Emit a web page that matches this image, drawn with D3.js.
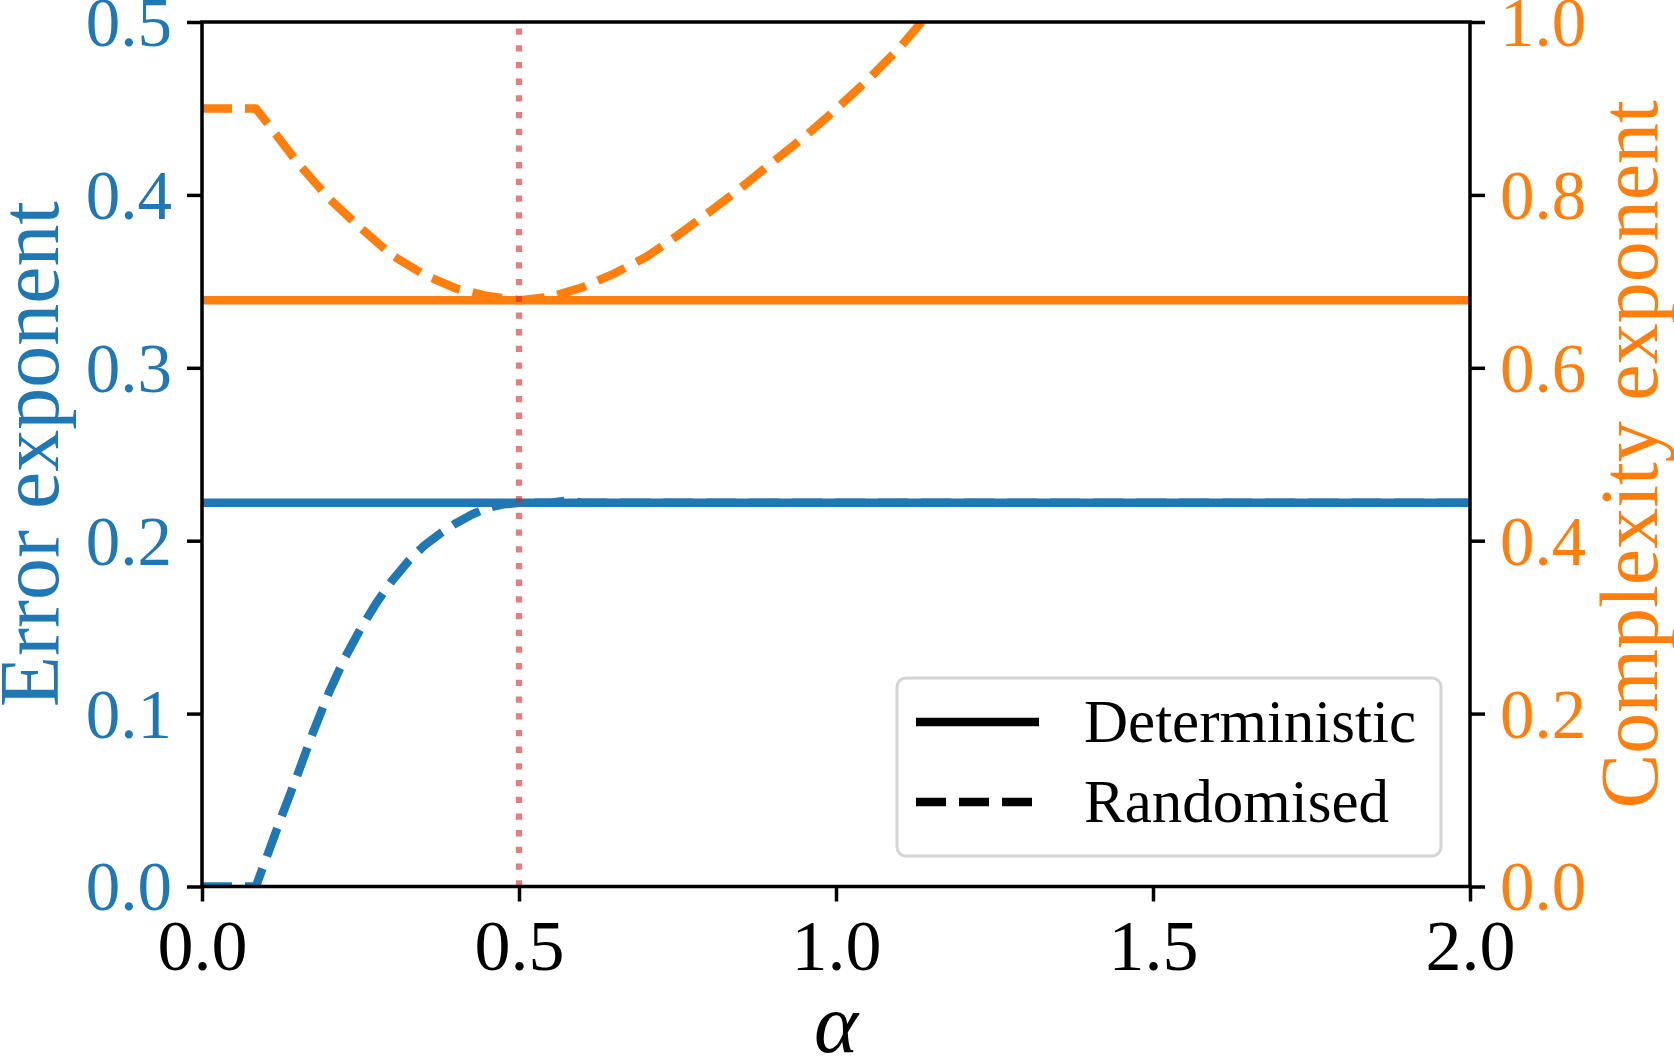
<html>
<head>
<script src="https://cdn.jsdelivr.net/npm/d3@7"></script>
<style>
  body { margin: 0; background: white; }
  text { font-family: "Liberation Serif", "DejaVu Serif", serif; }
</style>
</head>
<body>
<svg id="chart" width="1674" height="1058"></svg>
<script>
// deterministic exponents are flat in alpha
var detAlpha = [0, 2];
var detErr = [0.222, 0.222];
var detCx = [0.678, 0.678];

// randomised error exponent (left axis)
var randErrAlpha = [0, 0.085, 0.1, 0.125, 0.15, 0.175, 0.2, 0.225, 0.25, 0.275, 0.3, 0.325, 0.35, 0.375, 0.4, 0.425, 0.45, 0.475, 0.5, 0.55, 0.575, 0.6, 2.0];
var randErr = [0, 0, 0.015, 0.040, 0.064, 0.089, 0.112, 0.132, 0.149, 0.164, 0.177, 0.188, 0.197, 0.204, 0.210, 0.215, 0.219, 0.221, 0.222, 0.222, 0.2232, 0.222, 0.222];

// randomised complexity exponent (right axis)
var randCxAlpha = [0, 0.085, 0.1, 0.15, 0.2, 0.25, 0.3, 0.35, 0.4, 0.45, 0.5, 0.55, 0.6, 0.65, 0.7, 0.75, 0.8, 0.85, 0.9, 0.95, 1.0, 1.05, 1.1, 1.135, 1.2];
var randCx = [0.9, 0.9, 0.886, 0.838, 0.796, 0.762, 0.730, 0.708, 0.692, 0.683, 0.678, 0.682, 0.693, 0.709, 0.728, 0.753, 0.780, 0.808, 0.838, 0.867, 0.899, 0.933, 0.970, 1.0, 1.055];

var xTicks = [0, 0.5, 1.0, 1.5, 2.0];
var leftTicks = [0, 0.1, 0.2, 0.3, 0.4, 0.5];
var rightTicks = [0, 0.2, 0.4, 0.6, 0.8, 1.0];
var alphaStar = 0.5;

var blue = "#1f77b4", orange = "#ff7f0e";
var dashed = "30,13";
// plot box (window.top is reserved, so prefixed names)
var pL = 202, pR = 1470, pT = 22, pB = 886.5;

var svg = d3.select("#chart");
var x = d3.scaleLinear().domain([0, 2]).range([pL, pR]);
var yL = d3.scaleLinear().domain([0, 0.5]).range([pB, pT]);
var yR = d3.scaleLinear().domain([0, 1]).range([pB, pT]);
var fmt = d3.format(".1f");

svg.append("clipPath").attr("id", "plotclip")
  .append("rect").attr("x", pL).attr("y", pT)
  .attr("width", pR - pL).attr("height", pB - pT);

var plot = svg.append("g").attr("clip-path", "url(#plotclip)");

function addLine(xs, ys, scaleY, color, dash) {
  var line = d3.line().x(function(d) { return x(d[0]); }).y(function(d) { return scaleY(d[1]); });
  plot.append("path")
    .datum(xs.map(function(a, i) { return [a, ys[i]]; }))
    .attr("d", line)
    .attr("fill", "none")
    .attr("stroke", color)
    .attr("stroke-width", 8.5)
    .attr("stroke-linejoin", "round")
    .attr("stroke-dasharray", dash);
}

addLine(detAlpha, detErr, yL, blue, null);
addLine(randErrAlpha, randErr, yL, blue, dashed);
addLine(detAlpha, detCx, yR, orange, null);
addLine(randCxAlpha, randCx, yR, orange, dashed);

// vertical marker at alpha = 1/2
plot.append("line")
  .attr("x1", x(alphaStar)).attr("x2", x(alphaStar))
  .attr("y1", pB).attr("y2", pT)
  .attr("stroke", "#d62728").attr("stroke-opacity", 0.6)
  .attr("stroke-width", 6.3)
  .attr("stroke-dasharray", "6.3,10.4");

// axes
function styleAxis(g) {
  g.select(".domain").remove();
  g.selectAll(".tick line").attr("stroke", "black").attr("stroke-width", 3.5);
}

var gx = svg.append("g").attr("transform", "translate(0," + pB + ")")
  .call(d3.axisBottom(x).tickValues(xTicks).tickFormat(fmt).tickSize(15));
styleAxis(gx);
gx.selectAll(".tick text").attr("y", 83.5).attr("dy", null)
  .attr("font-size", 72).attr("fill", "black");

var gl = svg.append("g").attr("transform", "translate(" + pL + ",0)")
  .call(d3.axisLeft(yL).tickValues(leftTicks).tickFormat(fmt).tickSize(15));
styleAxis(gl);
gl.selectAll(".tick text").attr("x", -30).attr("dy", "0.34em")
  .attr("font-size", 69).attr("fill", blue);

var gr = svg.append("g").attr("transform", "translate(" + pR + ",0)")
  .call(d3.axisRight(yR).tickValues(rightTicks).tickFormat(fmt).tickSize(15));
styleAxis(gr);
gr.selectAll(".tick text").attr("x", 30).attr("dy", "0.34em")
  .attr("font-size", 69).attr("fill", orange);

svg.append("rect")
  .attr("x", pL).attr("y", pT)
  .attr("width", pR - pL).attr("height", pB - pT)
  .attr("fill", "none").attr("stroke", "black").attr("stroke-width", 3.5);

// axis labels
svg.append("text")
  .attr("transform", "translate(58," + (pT + pB) / 2 + ") rotate(-90)")
  .attr("text-anchor", "middle").attr("font-size", 84).attr("fill", blue)
  .text("Error exponent");

svg.append("text")
  .attr("transform", "translate(1657," + (pT + pB) / 2 + ") rotate(-90)")
  .attr("text-anchor", "middle").attr("font-size", 82).attr("fill", orange)
  .text("Complexity exponent");

svg.append("text")
  .attr("x", (pL + pR) / 2).attr("y", 1052)
  .attr("text-anchor", "middle").attr("font-size", 84).attr("font-style", "italic")
  .text("α");

// legend
var legend = svg.append("g");
legend.append("rect")
  .attr("x", 897).attr("y", 678).attr("width", 544).attr("height", 178)
  .attr("rx", 9).attr("fill", "white").attr("fill-opacity", 0.8)
  .attr("stroke", "#d5d5d5").attr("stroke-width", 3);

var legendItems = [["Deterministic", null, 722], ["Randomised", dashed, 802]];
legendItems.forEach(function(it) {
  legend.append("line")
    .attr("x1", 916).attr("x2", 1039).attr("y1", it[2]).attr("y2", it[2])
    .attr("stroke", "black").attr("stroke-width", 8.5)
    .attr("stroke-dasharray", it[1]);
  legend.append("text")
    .attr("x", 1084).attr("y", it[2] + 20)
    .attr("font-size", 61).attr("fill", "black")
    .text(it[0]);
});
</script>
</body>
</html>
